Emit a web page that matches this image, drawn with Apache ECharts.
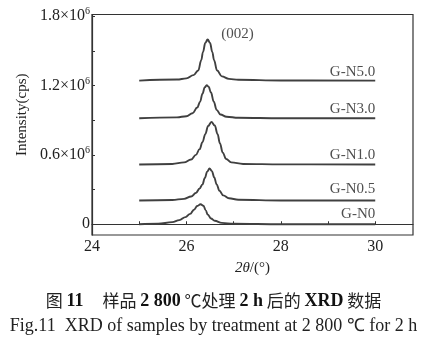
<!DOCTYPE html>
<html>
<head>
<meta charset="utf-8">
<script src="https://cdn.jsdelivr.net/npm/echarts@6/dist/echarts.min.js"></script>
<style>
  html, body { margin: 0; padding: 0; background: #fff; }
  #chart { width: 427px; height: 344px; }
</style>
</head>
<body>
<div id="chart"></div>
<script>
// XRD (002) reflection of graphite samples, 2θ in degrees, intensity in cps
const sampleNames = ['G-N0', 'G-N0.5', 'G-N1.0', 'G-N3.0', 'G-N5.0'];

const patternGN0 = [
  [25.0, 0], [25.4, 4000], [25.7, 18000], [25.85, 36000], [25.98, 62000],
  [26.08, 90000], [26.16, 125000], [26.23, 158000], [26.3, 173000], [26.36, 160000],
  [26.41, 120000], [26.45, 85000], [26.52, 50000], [26.6, 30000], [26.75, 12000],
  [27.0, 4000], [28.0, 0], [30.0, 0]
];
const patternGN05 = [
  [25.0, 205000], [25.7, 210000], [25.95, 220000], [26.1, 240000], [26.2, 270000],
  [26.28, 310000], [26.34, 345000], [26.39, 400000], [26.44, 455000], [26.49, 482000],
  [26.54, 460000], [26.59, 405000], [26.64, 345000], [26.7, 290000], [26.78, 250000],
  [26.9, 225000], [27.1, 212000], [28.0, 206000], [30.0, 205000]
];
const patternGN10 = [
  [25.0, 517000], [25.7, 522000], [25.95, 535000], [26.1, 560000], [26.2, 600000],
  [26.28, 650000], [26.34, 710000], [26.4, 780000], [26.46, 850000], [26.53, 885000],
  [26.6, 855000], [26.66, 780000], [26.71, 700000], [26.77, 620000], [26.84, 565000],
  [26.95, 535000], [27.2, 522000], [28.0, 518000], [30.0, 517000]
];
const patternGN30 = [
  [25.0, 917000], [25.8, 925000], [26.0, 935000], [26.13, 960000], [26.23, 1010000],
  [26.29, 1060000], [26.34, 1130000], [26.39, 1185000], [26.43, 1203000], [26.47, 1190000],
  [26.52, 1140000], [26.58, 1060000], [26.64, 990000], [26.72, 950000], [26.85, 930000],
  [27.1, 921000], [28.0, 917000], [30.0, 917000]
];
const patternGN50 = [
  [25.0, 1243000], [25.8, 1252000], [26.0, 1262000], [26.15, 1290000], [26.25, 1330000],
  [26.315, 1420000], [26.35, 1488000], [26.4, 1568000], [26.45, 1600000], [26.5, 1568000],
  [26.55, 1488000], [26.585, 1420000], [26.65, 1330000], [26.75, 1280000], [26.9, 1258000],
  [27.1, 1250000], [28.0, 1244000], [30.0, 1243000]
];

// curve captions, placed in data coordinates at the right end of each trace
const sampleLabelPos = [
  [30, 84000], [30, 303000], [30, 603000], [30, 995000], [30, 1315000]
];
const peakLabel = { text: '(002)', pos: [27.08, 1650000] };

const xTicks = [24, 25, 26, 27, 28, 29, 30];
const xTickLabels = [24, 26, 28, 30];
const yTicks = [0, 300000, 600000, 900000, 1200000, 1500000, 1800000];
const yTickLabels = [0, 600000, 1200000, 1800000];

const patterns = [patternGN0, patternGN05, patternGN10, patternGN30, patternGN50];

const serif = '"Liberation Serif", "DejaVu Serif", serif';
const lineColor = '#404040';

const chart = echarts.init(document.getElementById('chart'), null, { renderer: 'canvas' });

const lineSeries = patterns.map((d, i) => ({
  name: sampleNames[i],
  type: 'line',
  data: d,
  showSymbol: false,
  smooth: 0.4,
  smoothMonotone: 'x',
  lineStyle: { color: lineColor, width: 1.9 },
  silent: true,
  z: 3
}));

const labelSeries = {
  type: 'scatter',
  symbolSize: 0,
  silent: true,
  data: sampleLabelPos.map((p, i) => ({ value: p, name: sampleNames[i] })),
  label: {
    show: true,
    position: 'left',
    distance: 0,
    formatter: p => p.name,
    fontFamily: serif,
    fontSize: 15,
    color: '#222'
  },
  z: 4
};

const peakSeries = {
  type: 'scatter',
  symbolSize: 0,
  silent: true,
  data: [{ value: peakLabel.pos, name: peakLabel.text }],
  label: {
    show: true,
    position: 'inside',
    formatter: p => p.name,
    fontFamily: serif,
    fontSize: 15,
    color: '#222'
  },
  z: 4
};

function yLabel(v) {
  if (v === 0) return '0';
  return '{m|' + (v / 1e6).toFixed(1) + '×10}{s|6}';
}

chart.setOption({
  animation: false,
  backgroundColor: '#fff',
  grid: {
    left: 92, right: 14, top: 14.5, bottom: 109,
    show: true, borderColor: '#333', borderWidth: 1.2
  },
  xAxis: {
    type: 'value',
    min: 24, max: 30.8,
    name: '{i|2θ}{n|/(°)}',
    nameLocation: 'middle',
    nameGap: 26,
    nameTextStyle: {
      rich: {
        i: { fontFamily: serif, fontStyle: 'italic', fontSize: 15, color: '#222' },
        n: { fontFamily: serif, fontSize: 15, color: '#222' }
      }
    },
    axisLine: { show: true, lineStyle: { color: '#333', width: 1.2 } },
    axisTick: { show: true, inside: true, length: 3, customValues: xTicks, lineStyle: { color: '#333' } },
    axisLabel: {
      customValues: xTickLabels,
      fontFamily: serif, fontSize: 16, color: '#222', margin: 4
    },
    splitLine: { show: false }
  },
  yAxis: {
    type: 'value',
    min: -93000, max: 1815000,
    name: 'Intensity(cps)',
    nameLocation: 'middle',
    nameGap: 60,
    nameTextStyle: { fontFamily: serif, fontSize: 15, color: '#222', padding: [0, 0, 0, 20] },
    axisLine: { show: true, lineStyle: { color: '#333', width: 1.2 } },
    axisTick: { show: true, inside: true, length: 3, customValues: yTicks, lineStyle: { color: '#333' } },
    axisLabel: {
      customValues: yTickLabels,
      margin: 2,
      formatter: yLabel,
      fontFamily: serif, fontSize: 16, color: '#222',
      rich: {
        m: { fontFamily: serif, fontSize: 16, color: '#222' },
        s: { fontFamily: serif, fontSize: 10, color: '#222', padding: [0, 0, 9, 0] }
      }
    },
    splitLine: { show: false }
  },
  series: [...lineSeries, labelSeries, peakSeries],
  graphic: [
    {
      type: 'text',
      left: 'center',
      top: 292,
      style: {
        text: '{c|图 }{b|11}{c|     样品 }{b|2 800}{c| ℃处理 }{b|2 h}{c| 后的 }{b|XRD}{c| 数据}',
        rich: {
          c: { fontFamily: '"Noto Sans CJK SC", sans-serif', fontSize: 17, fill: '#222' },
          b: { fontFamily: serif, fontWeight: 'bold', fontSize: 18, fill: '#111' }
        }
      }
    },
    {
      type: 'text',
      left: 'center',
      top: 317,
      style: {
        text: 'Fig.11  XRD of samples by treatment at 2 800 ℃ for 2 h',
        font: '18px "Liberation Serif", serif',
        fill: '#222'
      }
    }
  ]
});
</script>
</body>
</html>
